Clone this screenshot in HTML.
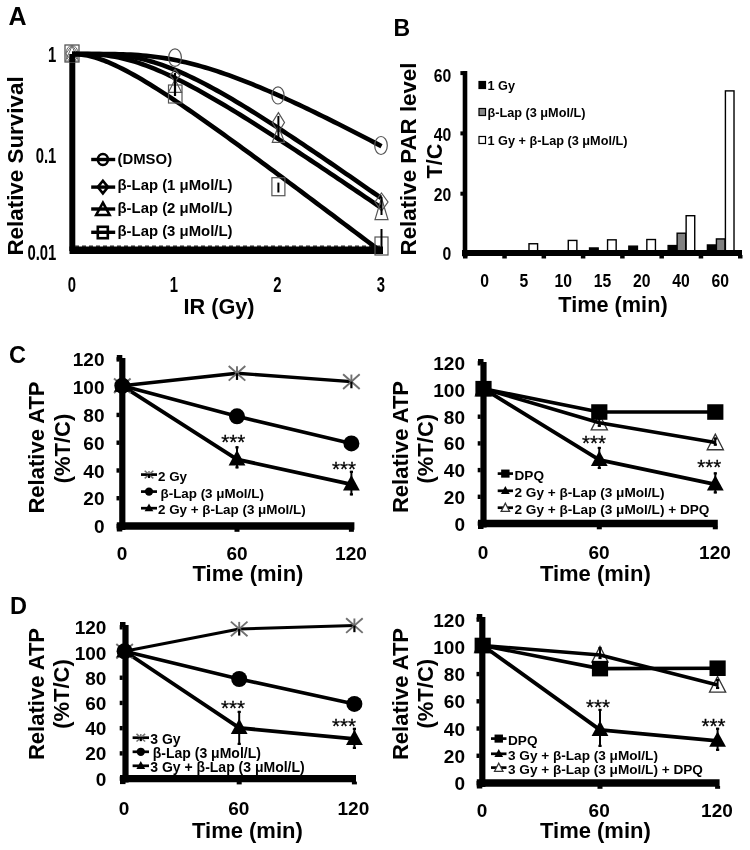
<!DOCTYPE html>
<html><head><meta charset="utf-8"><style>
html,body{margin:0;padding:0;background:#fff;width:750px;height:850px;overflow:hidden}
svg{display:block;filter:grayscale(100%)}
text{font-family:"Liberation Sans", sans-serif}
</style></head><body>
<svg width="750" height="850" viewBox="0 0 750 850">
<rect width="750" height="850" fill="#fff"/>
<text x="8.50" y="24.80" font-size="25" font-weight="bold" text-anchor="start" fill="#000" >A</text>
<text transform="translate(23.20,166.00) rotate(-90)" x="0" y="0" font-size="22.4" font-weight="bold" text-anchor="middle" fill="#000" >Relative Survival</text>
<line x1="72.30" y1="55.00" x2="72.30" y2="251.00" stroke="#000" stroke-width="6" stroke-linecap="butt"/>
<line x1="69.50" y1="250.30" x2="383.00" y2="250.30" stroke="#000" stroke-width="7.6" stroke-linecap="butt"/>
<line x1="75" y1="246.3" x2="380" y2="246.3" stroke="#222" stroke-width="1.6" stroke-dasharray="4 3"/>
<text transform="translate(56.30,61.99) scale(0.66,1)" x="0" y="0" font-size="22.5" font-weight="bold" text-anchor="end" fill="#000" >1</text>
<text transform="translate(56.30,162.99) scale(0.66,1)" x="0" y="0" font-size="22.5" font-weight="bold" text-anchor="end" fill="#000" >0.1</text>
<text transform="translate(56.30,259.99) scale(0.66,1)" x="0" y="0" font-size="22.5" font-weight="bold" text-anchor="end" fill="#000" >0.01</text>
<text transform="translate(72.00,292.49) scale(0.66,1)" x="0" y="0" font-size="22.5" font-weight="bold" text-anchor="middle" fill="#000" >0</text>
<text transform="translate(174.00,292.49) scale(0.66,1)" x="0" y="0" font-size="22.5" font-weight="bold" text-anchor="middle" fill="#000" >1</text>
<text transform="translate(277.50,292.49) scale(0.66,1)" x="0" y="0" font-size="22.5" font-weight="bold" text-anchor="middle" fill="#000" >2</text>
<text transform="translate(381.00,292.49) scale(0.66,1)" x="0" y="0" font-size="22.5" font-weight="bold" text-anchor="middle" fill="#000" >3</text>
<text x="219.00" y="313.50" font-size="21.7" font-weight="bold" text-anchor="middle" fill="#000" >IR (Gy)</text>
<rect x="65.00" y="45.00" width="14.00" height="17.00" fill="#fff" stroke="#555" stroke-width="1.3"/>
<ellipse cx="72.00" cy="53.50" rx="6.00" ry="8.00" fill="none" stroke="#666" stroke-width="1.0"/>
<polygon points="72.00,45.00 78.00,53.50 72.00,62.00 66.00,53.50" fill="none" stroke="#666" stroke-width="1.0" stroke-linejoin="miter"/>
<polygon points="72.00,46.00 78.50,61.00 65.50,61.00" fill="none" stroke="#666" stroke-width="1.0" stroke-linejoin="miter"/>
<line x1="72.30" y1="54.00" x2="72.30" y2="62.00" stroke="#000" stroke-width="6" stroke-linecap="butt"/>
<polyline points="72.00,54.00 75.92,54.00 79.84,54.00 83.75,54.00 87.67,54.00 91.59,54.00 95.51,54.01 99.42,54.01 103.34,54.03 107.26,54.05 111.18,54.09 115.09,54.15 119.01,54.23 122.93,54.34 126.85,54.48 130.77,54.66 134.68,54.87 138.60,55.13 142.52,55.44 146.44,55.79 150.35,56.20 154.27,56.66 158.19,57.17 162.11,57.74 166.03,58.36 169.94,59.04 173.86,59.77 177.78,60.55 181.70,61.39 185.61,62.28 189.53,63.23 193.45,64.22 197.37,65.26 201.28,66.35 205.20,67.49 209.12,68.67 213.04,69.89 216.96,71.16 220.87,72.47 224.79,73.81 228.71,75.19 232.63,76.61 236.54,78.06 240.46,79.55 244.38,81.06 248.30,82.61 252.22,84.18 256.13,85.79 260.05,87.42 263.97,89.07 267.89,90.75 271.80,92.45 275.72,94.17 279.64,95.92 283.56,97.68 287.47,99.47 291.39,101.27 295.31,103.09 299.23,104.92 303.15,106.78 307.06,108.64 310.98,110.52 314.90,112.42 318.82,114.32 322.73,116.24 326.65,118.18 330.57,120.12 334.49,122.07 338.41,124.04 342.32,126.01 346.24,127.99 350.16,129.98 354.08,131.98 357.99,133.99 361.91,136.01 365.83,138.03 369.75,140.06 373.66,142.09 377.58,144.13 381.50,146.18" fill="none" stroke="#000" stroke-width="4.6" stroke-linejoin="round" stroke-linecap="butt"/>
<polyline points="72.00,54.00 75.91,54.00 79.82,54.00 83.73,54.00 87.65,54.01 91.56,54.02 95.47,54.06 99.38,54.12 103.29,54.22 107.20,54.36 111.11,54.57 115.03,54.84 118.94,55.19 122.85,55.62 126.76,56.14 130.67,56.75 134.58,57.45 138.49,58.24 142.41,59.13 146.32,60.11 150.23,61.18 154.14,62.33 158.05,63.58 161.96,64.90 165.87,66.31 169.78,67.79 173.70,69.35 177.61,70.97 181.52,72.66 185.43,74.42 189.34,76.23 193.25,78.11 197.16,80.03 201.08,82.01 204.99,84.03 208.90,86.10 212.81,88.21 216.72,90.36 220.63,92.55 224.54,94.78 228.46,97.04 232.37,99.33 236.28,101.65 240.19,103.99 244.10,106.37 248.01,108.76 251.92,111.18 255.84,113.63 259.75,116.09 263.66,118.57 267.57,121.07 271.48,123.59 275.39,126.12 279.30,128.67 283.22,131.23 287.13,133.80 291.04,136.39 294.95,138.99 298.86,141.59 302.77,144.21 306.68,146.84 310.59,149.48 314.51,152.12 318.42,154.77 322.33,157.43 326.24,160.10 330.15,162.77 334.06,165.45 337.97,168.14 341.89,170.83 345.80,173.52 349.71,176.22 353.62,178.93 357.53,181.64 361.44,184.35 365.35,187.06 369.27,189.78 373.18,192.51 377.09,195.23 381.00,197.96" fill="none" stroke="#000" stroke-width="4.6" stroke-linejoin="round" stroke-linecap="butt"/>
<polyline points="72.00,54.00 75.91,54.00 79.82,54.01 83.73,54.04 87.65,54.11 91.56,54.23 95.47,54.43 99.38,54.71 103.29,55.08 107.20,55.55 111.11,56.12 115.03,56.79 118.94,57.56 122.85,58.44 126.76,59.41 130.67,60.48 134.58,61.64 138.49,62.88 142.41,64.22 146.32,65.63 150.23,67.12 154.14,68.68 158.05,70.31 161.96,72.00 165.87,73.75 169.78,75.56 173.70,77.42 177.61,79.34 181.52,81.30 185.43,83.31 189.34,85.35 193.25,87.44 197.16,89.56 201.08,91.72 204.99,93.91 208.90,96.14 212.81,98.39 216.72,100.66 220.63,102.97 224.54,105.29 228.46,107.64 232.37,110.01 236.28,112.40 240.19,114.80 244.10,117.23 248.01,119.67 251.92,122.12 255.84,124.59 259.75,127.07 263.66,129.57 267.57,132.08 271.48,134.59 275.39,137.12 279.30,139.66 283.22,142.21 287.13,144.76 291.04,147.32 294.95,149.90 298.86,152.47 302.77,155.06 306.68,157.65 310.59,160.25 314.51,162.85 318.42,165.46 322.33,168.07 326.24,170.68 330.15,173.31 334.06,175.93 337.97,178.56 341.89,181.19 345.80,183.83 349.71,186.47 353.62,189.11 357.53,191.75 361.44,194.40 365.35,197.05 369.27,199.70 373.18,202.35 377.09,205.01 381.00,207.67" fill="none" stroke="#000" stroke-width="4.6" stroke-linejoin="round" stroke-linecap="butt"/>
<polyline points="72.00,54.00 75.89,54.08 79.77,54.36 83.66,54.87 87.54,55.59 91.43,56.50 95.32,57.58 99.20,58.83 103.09,60.22 106.97,61.74 110.86,63.38 114.75,65.12 118.63,66.96 122.52,68.89 126.41,70.90 130.29,72.98 134.18,75.13 138.06,77.34 141.95,79.60 145.84,81.92 149.72,84.28 153.61,86.68 157.49,89.13 161.38,91.61 165.27,94.12 169.15,96.66 173.04,99.23 176.92,101.83 180.81,104.45 184.70,107.09 188.58,109.76 192.47,112.44 196.35,115.14 200.24,117.86 204.13,120.59 208.01,123.34 211.90,126.09 215.78,128.87 219.67,131.65 223.56,134.44 227.44,137.25 231.33,140.06 235.22,142.88 239.10,145.71 242.99,148.54 246.87,151.39 250.76,154.23 254.65,157.09 258.53,159.95 262.42,162.81 266.30,165.68 270.19,168.56 274.08,171.44 277.96,174.32 281.85,177.21 285.73,180.10 289.62,182.99 293.51,185.88 297.39,188.78 301.28,191.68 305.16,194.59 309.05,197.49 312.94,200.40 316.82,203.31 320.71,206.22 324.59,209.13 328.48,212.05 332.37,214.96 336.25,217.88 340.14,220.80 344.03,223.72 347.91,226.64 351.80,229.56 355.68,232.48 359.57,235.41 363.46,238.33 367.34,241.26 371.23,244.18 375.11,247.11 379.00,250.04" fill="none" stroke="#000" stroke-width="4.6" stroke-linejoin="round" stroke-linecap="butt"/>
<ellipse cx="175.00" cy="57.60" rx="6.40" ry="8.80" fill="none" stroke="#555" stroke-width="1.2"/>
<polygon points="175.00,69.50 180.00,75.50 175.00,81.50 170.00,75.50" fill="none" stroke="#555" stroke-width="1.2" stroke-linejoin="miter"/>
<rect x="168.50" y="85.00" width="13.50" height="18.00" fill="none" stroke="#555" stroke-width="1.2"/>
<polygon points="175.00,79.60 181.50,92.30 168.50,92.30" fill="none" stroke="#555" stroke-width="1.2" stroke-linejoin="miter"/>
<line x1="175.00" y1="73.00" x2="175.00" y2="96.00" stroke="#000" stroke-width="2.2" stroke-linecap="butt"/>
<ellipse cx="278.00" cy="95.40" rx="6.10" ry="8.60" fill="none" stroke="#555" stroke-width="1.2"/>
<polygon points="278.40,112.60 284.50,122.50 278.40,132.40 272.30,122.50" fill="none" stroke="#555" stroke-width="1.2" stroke-linejoin="miter"/>
<polygon points="278.40,126.00 284.50,142.30 272.30,142.30" fill="none" stroke="#555" stroke-width="1.2" stroke-linejoin="miter"/>
<line x1="278.40" y1="116.00" x2="278.40" y2="138.00" stroke="#000" stroke-width="2" stroke-linecap="butt"/>
<rect x="271.90" y="177.70" width="13.00" height="18.00" fill="none" stroke="#555" stroke-width="1.2"/>
<line x1="278.40" y1="182.60" x2="278.40" y2="192.50" stroke="#000" stroke-width="2" stroke-linecap="butt"/>
<ellipse cx="381.00" cy="145.50" rx="6.30" ry="9.00" fill="none" stroke="#555" stroke-width="1.2"/>
<polygon points="381.50,193.00 388.00,202.00 381.50,211.00 375.00,202.00" fill="none" stroke="#555" stroke-width="1.2" stroke-linejoin="miter"/>
<polygon points="381.50,198.00 388.00,219.70 375.00,219.70" fill="none" stroke="#555" stroke-width="1.2" stroke-linejoin="miter"/>
<line x1="381.50" y1="197.00" x2="381.50" y2="215.00" stroke="#000" stroke-width="2" stroke-linecap="butt"/>
<rect x="375.00" y="237.00" width="13.00" height="18.00" fill="none" stroke="#555" stroke-width="1.2"/>
<line x1="381.50" y1="229.00" x2="381.50" y2="248.00" stroke="#000" stroke-width="2" stroke-linecap="butt"/>
<line x1="91.20" y1="159.50" x2="115.20" y2="159.50" stroke="#000" stroke-width="3.4" stroke-linecap="butt"/>
<ellipse cx="102.90" cy="159.50" rx="5.00" ry="5.50" fill="none" stroke="#000" stroke-width="2.6"/>
<text x="117.50" y="163.69" font-size="14.9" font-weight="bold" text-anchor="start" fill="#000" >(DMSO)</text>
<line x1="91.20" y1="187.10" x2="115.20" y2="187.10" stroke="#000" stroke-width="3.4" stroke-linecap="butt"/>
<polygon points="102.90,180.80 108.00,187.10 102.90,193.40 97.80,187.10" fill="none" stroke="#000" stroke-width="2.6" stroke-linejoin="miter"/>
<text x="117.50" y="190.09" font-size="14.9" font-weight="bold" text-anchor="start" fill="#000" >β-Lap (1 μMol/L)</text>
<line x1="91.20" y1="209.00" x2="115.20" y2="209.00" stroke="#000" stroke-width="3.4" stroke-linecap="butt"/>
<polygon points="102.90,202.70 109.60,215.00 96.20,215.00" fill="none" stroke="#000" stroke-width="2.6" stroke-linejoin="miter"/>
<text x="117.50" y="212.89" font-size="14.9" font-weight="bold" text-anchor="start" fill="#000" >β-Lap (2 μMol/L)</text>
<line x1="91.20" y1="232.30" x2="115.20" y2="232.30" stroke="#000" stroke-width="3.4" stroke-linecap="butt"/>
<rect x="97.80" y="226.80" width="10.00" height="11.40" fill="none" stroke="#000" stroke-width="2.6"/>
<text x="117.50" y="235.69" font-size="14.9" font-weight="bold" text-anchor="start" fill="#000" >β-Lap (3 μMol/L)</text>
<text x="393.50" y="35.50" font-size="23" font-weight="bold" text-anchor="start" fill="#000" >B</text>
<text transform="translate(416.30,159.00) rotate(-90)" x="0" y="0" font-size="22.3" font-weight="bold" text-anchor="middle" fill="#000" >Relative PAR level</text>
<text transform="translate(442.00,161.00) rotate(-90)" x="0" y="0" font-size="21.7" font-weight="bold" text-anchor="middle" fill="#000" >T/C</text>
<line x1="465.00" y1="71.00" x2="465.00" y2="257.00" stroke="#000" stroke-width="4.6" stroke-linecap="butt"/>
<line x1="462.00" y1="253.00" x2="742.00" y2="253.00" stroke="#000" stroke-width="6" stroke-linecap="butt"/>
<text transform="translate(451.30,260.41) scale(0.9,1)" x="0" y="0" font-size="17.5" font-weight="bold" text-anchor="end" fill="#000" >0</text>
<rect x="460.40" y="191.70" width="3.00" height="4.00" fill="#000" stroke="none" stroke-width="0"/>
<text transform="translate(451.30,201.21) scale(0.9,1)" x="0" y="0" font-size="17.5" font-weight="bold" text-anchor="end" fill="#000" >20</text>
<rect x="460.40" y="131.40" width="3.00" height="4.00" fill="#000" stroke="none" stroke-width="0"/>
<text transform="translate(451.30,141.21) scale(0.9,1)" x="0" y="0" font-size="17.5" font-weight="bold" text-anchor="end" fill="#000" >40</text>
<rect x="460.40" y="71.10" width="3.00" height="4.00" fill="#000" stroke="none" stroke-width="0"/>
<text transform="translate(451.30,82.21) scale(0.9,1)" x="0" y="0" font-size="17.5" font-weight="bold" text-anchor="end" fill="#000" >60</text>
<rect x="463.00" y="255.00" width="4.50" height="3.50" fill="#000" stroke="none" stroke-width="0"/>
<rect x="502.29" y="255.00" width="4.50" height="3.50" fill="#000" stroke="none" stroke-width="0"/>
<rect x="541.57" y="255.00" width="4.50" height="3.50" fill="#000" stroke="none" stroke-width="0"/>
<rect x="580.86" y="255.00" width="4.50" height="3.50" fill="#000" stroke="none" stroke-width="0"/>
<rect x="620.14" y="255.00" width="4.50" height="3.50" fill="#000" stroke="none" stroke-width="0"/>
<rect x="659.43" y="255.00" width="4.50" height="3.50" fill="#000" stroke="none" stroke-width="0"/>
<rect x="698.71" y="255.00" width="4.50" height="3.50" fill="#000" stroke="none" stroke-width="0"/>
<rect x="738.00" y="255.00" width="4.50" height="3.50" fill="#000" stroke="none" stroke-width="0"/>
<rect x="471.70" y="251.29" width="8.60" height="2.71" fill="#000" stroke="#000" stroke-width="1.4"/>
<rect x="480.70" y="252.49" width="8.60" height="1.51" fill="#808080" stroke="#000" stroke-width="1.4"/>
<rect x="489.70" y="251.59" width="8.60" height="2.41" fill="#fff" stroke="#000" stroke-width="1.4"/>
<text transform="translate(484.64,287.21) scale(0.9,1)" x="0" y="0" font-size="17.5" font-weight="bold" text-anchor="middle" fill="#000" >0</text>
<rect x="510.99" y="250.99" width="8.60" height="3.02" fill="#000" stroke="#000" stroke-width="1.4"/>
<rect x="519.99" y="252.19" width="8.60" height="1.81" fill="#808080" stroke="#000" stroke-width="1.4"/>
<rect x="528.99" y="243.75" width="8.60" height="10.25" fill="#fff" stroke="#000" stroke-width="1.4"/>
<text transform="translate(523.93,287.21) scale(0.9,1)" x="0" y="0" font-size="17.5" font-weight="bold" text-anchor="middle" fill="#000" >5</text>
<rect x="550.27" y="250.99" width="8.60" height="3.02" fill="#000" stroke="#000" stroke-width="1.4"/>
<rect x="559.27" y="252.19" width="8.60" height="1.81" fill="#808080" stroke="#000" stroke-width="1.4"/>
<rect x="568.27" y="240.43" width="8.60" height="13.57" fill="#fff" stroke="#000" stroke-width="1.4"/>
<text transform="translate(563.21,287.21) scale(0.9,1)" x="0" y="0" font-size="17.5" font-weight="bold" text-anchor="middle" fill="#000" >10</text>
<rect x="589.56" y="247.97" width="8.60" height="6.03" fill="#000" stroke="#000" stroke-width="1.4"/>
<rect x="598.56" y="251.89" width="8.60" height="2.11" fill="#808080" stroke="#000" stroke-width="1.4"/>
<rect x="607.56" y="239.83" width="8.60" height="14.17" fill="#fff" stroke="#000" stroke-width="1.4"/>
<text transform="translate(602.50,287.21) scale(0.9,1)" x="0" y="0" font-size="17.5" font-weight="bold" text-anchor="middle" fill="#000" >15</text>
<rect x="628.84" y="246.16" width="8.60" height="7.84" fill="#000" stroke="#000" stroke-width="1.4"/>
<rect x="637.84" y="251.59" width="8.60" height="2.41" fill="#808080" stroke="#000" stroke-width="1.4"/>
<rect x="646.84" y="239.53" width="8.60" height="14.47" fill="#fff" stroke="#000" stroke-width="1.4"/>
<text transform="translate(641.79,287.21) scale(0.9,1)" x="0" y="0" font-size="17.5" font-weight="bold" text-anchor="middle" fill="#000" >20</text>
<rect x="668.13" y="245.56" width="8.60" height="8.44" fill="#000" stroke="#000" stroke-width="1.4"/>
<rect x="677.13" y="233.20" width="8.60" height="20.80" fill="#808080" stroke="#000" stroke-width="1.4"/>
<rect x="686.13" y="215.71" width="8.60" height="38.29" fill="#fff" stroke="#000" stroke-width="1.4"/>
<text transform="translate(681.07,287.21) scale(0.9,1)" x="0" y="0" font-size="17.5" font-weight="bold" text-anchor="middle" fill="#000" >40</text>
<rect x="707.41" y="244.96" width="8.60" height="9.04" fill="#000" stroke="#000" stroke-width="1.4"/>
<rect x="716.41" y="238.93" width="8.60" height="15.08" fill="#808080" stroke="#000" stroke-width="1.4"/>
<rect x="725.41" y="90.89" width="8.60" height="163.11" fill="#fff" stroke="#000" stroke-width="1.4"/>
<text transform="translate(720.36,287.21) scale(0.9,1)" x="0" y="0" font-size="17.5" font-weight="bold" text-anchor="middle" fill="#000" >60</text>
<line x1="462.00" y1="253.00" x2="742.00" y2="253.00" stroke="#000" stroke-width="6" stroke-linecap="butt"/>
<text x="613.00" y="312.00" font-size="21.7" font-weight="bold" text-anchor="middle" fill="#000" >Time (min)</text>
<rect x="479.00" y="81.50" width="6.50" height="7.00" fill="#000" stroke="#000" stroke-width="1.2"/>
<text x="487.50" y="89.51" font-size="12.7" font-weight="bold" text-anchor="start" fill="#000" >1 Gy</text>
<rect x="479.00" y="108.50" width="6.50" height="7.00" fill="#888" stroke="#000" stroke-width="1.2"/>
<text x="487.50" y="116.51" font-size="12.7" font-weight="bold" text-anchor="start" fill="#000" >β-Lap (3 μMol/L)</text>
<rect x="479.00" y="136.50" width="6.50" height="7.00" fill="#fff" stroke="#000" stroke-width="1.2"/>
<text x="487.50" y="144.51" font-size="12.7" font-weight="bold" text-anchor="start" fill="#000" >1 Gy + β-Lap (3 μMol/L)</text>
<text x="9.00" y="362.70" font-size="23.5" font-weight="bold" text-anchor="start" fill="#000" >C</text>
<text transform="translate(44.00,447.50) rotate(-90)" x="0" y="0" font-size="22" font-weight="bold" text-anchor="middle" fill="#000" >Relative ATP</text>
<text transform="translate(69.50,448.50) rotate(-90)" x="0" y="0" font-size="22" font-weight="bold" text-anchor="middle" fill="#000" >(%T/C)</text>
<text transform="translate(104.50,533.07) scale(1.03,1)" x="0" y="0" font-size="18.5" font-weight="bold" text-anchor="end" fill="#000" >0</text>
<rect x="116.50" y="523.80" width="3.00" height="4.40" fill="#000" stroke="none" stroke-width="0"/>
<text transform="translate(104.50,505.30) scale(1.03,1)" x="0" y="0" font-size="18.5" font-weight="bold" text-anchor="end" fill="#000" >20</text>
<rect x="116.50" y="496.03" width="3.00" height="4.40" fill="#000" stroke="none" stroke-width="0"/>
<text transform="translate(104.50,477.53) scale(1.03,1)" x="0" y="0" font-size="18.5" font-weight="bold" text-anchor="end" fill="#000" >40</text>
<rect x="116.50" y="468.27" width="3.00" height="4.40" fill="#000" stroke="none" stroke-width="0"/>
<text transform="translate(104.50,449.77) scale(1.03,1)" x="0" y="0" font-size="18.5" font-weight="bold" text-anchor="end" fill="#000" >60</text>
<rect x="116.50" y="440.50" width="3.00" height="4.40" fill="#000" stroke="none" stroke-width="0"/>
<text transform="translate(104.50,422.00) scale(1.03,1)" x="0" y="0" font-size="18.5" font-weight="bold" text-anchor="end" fill="#000" >80</text>
<rect x="116.50" y="412.73" width="3.00" height="4.40" fill="#000" stroke="none" stroke-width="0"/>
<text transform="translate(104.50,394.23) scale(1.03,1)" x="0" y="0" font-size="18.5" font-weight="bold" text-anchor="end" fill="#000" >100</text>
<rect x="116.50" y="384.97" width="3.00" height="4.40" fill="#000" stroke="none" stroke-width="0"/>
<text transform="translate(104.50,366.47) scale(1.03,1)" x="0" y="0" font-size="18.5" font-weight="bold" text-anchor="end" fill="#000" >120</text>
<rect x="116.50" y="357.20" width="3.00" height="4.40" fill="#000" stroke="none" stroke-width="0"/>
<text transform="translate(122.00,560.07) scale(1.03,1)" x="0" y="0" font-size="18.5" font-weight="bold" text-anchor="middle" fill="#000" >0</text>
<text transform="translate(237.00,560.07) scale(1.03,1)" x="0" y="0" font-size="18.5" font-weight="bold" text-anchor="middle" fill="#000" >60</text>
<text transform="translate(351.00,560.07) scale(1.03,1)" x="0" y="0" font-size="18.5" font-weight="bold" text-anchor="middle" fill="#000" >120</text>
<text x="248.00" y="581.20" font-size="22" font-weight="bold" text-anchor="middle" fill="#000" >Time (min)</text>
<polyline points="122.30,385.78 237.00,373.28 351.40,381.61" fill="none" stroke="#000" stroke-width="3.4" stroke-linejoin="round" stroke-linecap="butt"/>
<polyline points="122.30,385.78 237.00,416.32 351.40,443.39" fill="none" stroke="#000" stroke-width="3.6" stroke-linejoin="round" stroke-linecap="butt"/>
<polyline points="122.30,385.78 237.00,459.36 351.40,484.35" fill="none" stroke="#000" stroke-width="3.8" stroke-linejoin="round" stroke-linecap="butt"/>
<line x1="114.00" y1="378.47" x2="130.60" y2="393.08" stroke="#707070" stroke-width="1.9" stroke-linecap="butt"/>
<line x1="114.00" y1="393.08" x2="130.60" y2="378.47" stroke="#707070" stroke-width="1.9" stroke-linecap="butt"/>
<line x1="122.30" y1="378.72" x2="122.30" y2="385.78" stroke="#707070" stroke-width="1.9" stroke-linecap="butt"/>
<line x1="122.30" y1="385.78" x2="122.30" y2="392.42" stroke="#000" stroke-width="2.2" stroke-linecap="butt"/>
<line x1="228.70" y1="365.98" x2="245.30" y2="380.59" stroke="#707070" stroke-width="1.9" stroke-linecap="butt"/>
<line x1="228.70" y1="380.59" x2="245.30" y2="365.98" stroke="#707070" stroke-width="1.9" stroke-linecap="butt"/>
<line x1="237.00" y1="366.23" x2="237.00" y2="373.28" stroke="#707070" stroke-width="1.9" stroke-linecap="butt"/>
<line x1="237.00" y1="373.28" x2="237.00" y2="379.92" stroke="#000" stroke-width="2.2" stroke-linecap="butt"/>
<line x1="343.10" y1="374.31" x2="359.70" y2="388.92" stroke="#707070" stroke-width="1.9" stroke-linecap="butt"/>
<line x1="343.10" y1="388.92" x2="359.70" y2="374.31" stroke="#707070" stroke-width="1.9" stroke-linecap="butt"/>
<line x1="351.40" y1="374.56" x2="351.40" y2="381.61" stroke="#707070" stroke-width="1.9" stroke-linecap="butt"/>
<line x1="351.40" y1="381.61" x2="351.40" y2="388.25" stroke="#000" stroke-width="2.2" stroke-linecap="butt"/>
<circle cx="122.30" cy="385.78" r="8.00" fill="#000" stroke="none" stroke-width="0"/>
<circle cx="237.00" cy="416.32" r="8.00" fill="#000" stroke="none" stroke-width="0"/>
<circle cx="351.40" cy="443.39" r="8.00" fill="#000" stroke="none" stroke-width="0"/>
<polygon points="122.30,376.54 130.70,391.83 113.90,391.83" fill="#000" stroke="none" stroke-width="0" stroke-linejoin="miter"/>
<polygon points="237.00,450.12 245.40,465.41 228.60,465.41" fill="#000" stroke="none" stroke-width="0" stroke-linejoin="miter"/>
<line x1="237.00" y1="446.36" x2="237.00" y2="468.36" stroke="#000" stroke-width="2" stroke-linecap="butt"/>
<line x1="235.40" y1="447.36" x2="238.60" y2="447.36" stroke="#000" stroke-width="2.2" stroke-linecap="butt"/>
<line x1="235.40" y1="467.36" x2="238.60" y2="467.36" stroke="#000" stroke-width="2.2" stroke-linecap="butt"/>
<polygon points="351.40,475.11 359.80,490.40 343.00,490.40" fill="#000" stroke="none" stroke-width="0" stroke-linejoin="miter"/>
<line x1="351.40" y1="470.85" x2="351.40" y2="495.35" stroke="#000" stroke-width="2" stroke-linecap="butt"/>
<line x1="349.80" y1="471.85" x2="353.00" y2="471.85" stroke="#000" stroke-width="2.2" stroke-linecap="butt"/>
<line x1="349.80" y1="494.35" x2="353.00" y2="494.35" stroke="#000" stroke-width="2.2" stroke-linecap="butt"/>
<line x1="122.30" y1="358.00" x2="122.30" y2="530.00" stroke="#000" stroke-width="6.2" stroke-linecap="butt"/>
<rect x="116.80" y="355.00" width="5.50" height="5.00" fill="#000" stroke="none" stroke-width="0"/>
<line x1="116.80" y1="526.00" x2="354.40" y2="526.00" stroke="#000" stroke-width="7.4" stroke-linecap="butt"/>
<rect x="234.50" y="529.00" width="5.00" height="2.80" fill="#000" stroke="none" stroke-width="0"/>
<rect x="348.90" y="529.00" width="5.00" height="2.80" fill="#000" stroke="none" stroke-width="0"/>
<rect x="116.80" y="528.00" width="5.50" height="3.50" fill="#000" stroke="none" stroke-width="0"/>
<text x="233.15" y="449.20" font-size="20.5" font-weight="normal" text-anchor="middle" fill="#000" stroke="#000" stroke-width="0.3">***</text>
<text x="343.90" y="475.80" font-size="20.5" font-weight="normal" text-anchor="middle" fill="#000" stroke="#000" stroke-width="0.3">***</text>
<line x1="141.00" y1="474.60" x2="157.00" y2="474.60" stroke="#000" stroke-width="2.7" stroke-linecap="butt"/>
<line x1="144.68" y1="470.80" x2="153.32" y2="478.40" stroke="#707070" stroke-width="1.5" stroke-linecap="butt"/>
<line x1="144.68" y1="478.40" x2="153.32" y2="470.80" stroke="#707070" stroke-width="1.5" stroke-linecap="butt"/>
<line x1="149.00" y1="470.93" x2="149.00" y2="474.60" stroke="#707070" stroke-width="1.5" stroke-linecap="butt"/>
<line x1="149.00" y1="474.60" x2="149.00" y2="478.05" stroke="#000" stroke-width="2.2" stroke-linecap="butt"/>
<line x1="144.68" y1="474.60" x2="153.32" y2="474.60" stroke="#000" stroke-width="1.5" stroke-linecap="butt"/>
<text x="158.00" y="480.76" font-size="13.4" font-weight="bold" text-anchor="start" fill="#000" >2 Gy</text>
<line x1="141.00" y1="491.60" x2="157.00" y2="491.60" stroke="#000" stroke-width="2.7" stroke-linecap="butt"/>
<circle cx="149.00" cy="491.60" r="4.16" fill="#000" stroke="none" stroke-width="0"/>
<text x="160.50" y="497.76" font-size="13.4" font-weight="bold" text-anchor="start" fill="#000" >β-Lap (3 μMol/L)</text>
<line x1="141.00" y1="508.20" x2="157.00" y2="508.20" stroke="#000" stroke-width="2.7" stroke-linecap="butt"/>
<polygon points="149.00,503.40 153.37,511.34 144.63,511.34" fill="#000" stroke="none" stroke-width="0" stroke-linejoin="miter"/>
<text x="158.00" y="514.36" font-size="13.4" font-weight="bold" text-anchor="start" fill="#000" >2 Gy + β-Lap (3 μMol/L)</text>
<text transform="translate(408.30,447.00) rotate(-90)" x="0" y="0" font-size="22" font-weight="bold" text-anchor="middle" fill="#000" >Relative ATP</text>
<text transform="translate(433.20,448.70) rotate(-90)" x="0" y="0" font-size="22" font-weight="bold" text-anchor="middle" fill="#000" >(%T/C)</text>
<text transform="translate(465.00,530.57) scale(1.03,1)" x="0" y="0" font-size="18.5" font-weight="bold" text-anchor="end" fill="#000" >0</text>
<rect x="477.70" y="521.30" width="3.00" height="4.40" fill="#000" stroke="none" stroke-width="0"/>
<text transform="translate(465.00,503.87) scale(1.03,1)" x="0" y="0" font-size="18.5" font-weight="bold" text-anchor="end" fill="#000" >20</text>
<rect x="477.70" y="494.60" width="3.00" height="4.40" fill="#000" stroke="none" stroke-width="0"/>
<text transform="translate(465.00,477.17) scale(1.03,1)" x="0" y="0" font-size="18.5" font-weight="bold" text-anchor="end" fill="#000" >40</text>
<rect x="477.70" y="467.90" width="3.00" height="4.40" fill="#000" stroke="none" stroke-width="0"/>
<text transform="translate(465.00,450.47) scale(1.03,1)" x="0" y="0" font-size="18.5" font-weight="bold" text-anchor="end" fill="#000" >60</text>
<rect x="477.70" y="441.20" width="3.00" height="4.40" fill="#000" stroke="none" stroke-width="0"/>
<text transform="translate(465.00,423.77) scale(1.03,1)" x="0" y="0" font-size="18.5" font-weight="bold" text-anchor="end" fill="#000" >80</text>
<rect x="477.70" y="414.50" width="3.00" height="4.40" fill="#000" stroke="none" stroke-width="0"/>
<text transform="translate(465.00,397.07) scale(1.03,1)" x="0" y="0" font-size="18.5" font-weight="bold" text-anchor="end" fill="#000" >100</text>
<rect x="477.70" y="387.80" width="3.00" height="4.40" fill="#000" stroke="none" stroke-width="0"/>
<text transform="translate(465.00,370.37) scale(1.03,1)" x="0" y="0" font-size="18.5" font-weight="bold" text-anchor="end" fill="#000" >120</text>
<rect x="477.70" y="361.10" width="3.00" height="4.40" fill="#000" stroke="none" stroke-width="0"/>
<text transform="translate(483.00,558.57) scale(1.03,1)" x="0" y="0" font-size="18.5" font-weight="bold" text-anchor="middle" fill="#000" >0</text>
<text transform="translate(599.00,558.57) scale(1.03,1)" x="0" y="0" font-size="18.5" font-weight="bold" text-anchor="middle" fill="#000" >60</text>
<text transform="translate(715.00,558.57) scale(1.03,1)" x="0" y="0" font-size="18.5" font-weight="bold" text-anchor="middle" fill="#000" >120</text>
<text x="595.30" y="581.00" font-size="22" font-weight="bold" text-anchor="middle" fill="#000" >Time (min)</text>
<polygon points="483.50,380.16 491.60,395.79 475.40,395.79" fill="#fff" stroke="#333" stroke-width="1.3" stroke-linejoin="miter"/>
<polygon points="599.30,414.20 607.40,429.84 591.20,429.84" fill="#fff" stroke="#333" stroke-width="1.3" stroke-linejoin="miter"/>
<line x1="599.30" y1="417.71" x2="599.30" y2="426.71" stroke="#000" stroke-width="2" stroke-linecap="butt"/>
<line x1="597.70" y1="418.71" x2="600.90" y2="418.71" stroke="#000" stroke-width="2.2" stroke-linecap="butt"/>
<line x1="597.70" y1="425.71" x2="600.90" y2="425.71" stroke="#000" stroke-width="2.2" stroke-linecap="butt"/>
<polygon points="715.30,434.09 723.40,449.73 707.20,449.73" fill="#fff" stroke="#333" stroke-width="1.3" stroke-linejoin="miter"/>
<line x1="715.30" y1="437.60" x2="715.30" y2="445.60" stroke="#000" stroke-width="2" stroke-linecap="butt"/>
<line x1="713.70" y1="438.60" x2="716.90" y2="438.60" stroke="#000" stroke-width="2.2" stroke-linecap="butt"/>
<line x1="713.70" y1="444.60" x2="716.90" y2="444.60" stroke="#000" stroke-width="2.2" stroke-linecap="butt"/>
<polyline points="483.50,388.66 599.30,412.03 715.30,412.03" fill="none" stroke="#000" stroke-width="3.6" stroke-linejoin="round" stroke-linecap="butt"/>
<polyline points="483.50,388.66 599.30,422.71 715.30,442.60" fill="none" stroke="#000" stroke-width="3.6" stroke-linejoin="round" stroke-linecap="butt"/>
<polyline points="483.50,388.66 599.30,459.95 715.30,484.38" fill="none" stroke="#000" stroke-width="3.8" stroke-linejoin="round" stroke-linecap="butt"/>
<rect x="475.40" y="380.89" width="16.20" height="15.55" fill="#000" stroke="none" stroke-width="0"/>
<rect x="591.20" y="404.25" width="16.20" height="15.55" fill="#000" stroke="none" stroke-width="0"/>
<rect x="707.20" y="404.25" width="16.20" height="15.55" fill="#000" stroke="none" stroke-width="0"/>
<polygon points="483.50,379.42 491.90,394.71 475.10,394.71" fill="#000" stroke="none" stroke-width="0" stroke-linejoin="miter"/>
<polygon points="599.30,450.71 607.70,466.00 590.90,466.00" fill="#000" stroke="none" stroke-width="0" stroke-linejoin="miter"/>
<line x1="599.30" y1="446.95" x2="599.30" y2="468.95" stroke="#000" stroke-width="2" stroke-linecap="butt"/>
<line x1="597.70" y1="447.95" x2="600.90" y2="447.95" stroke="#000" stroke-width="2.2" stroke-linecap="butt"/>
<line x1="597.70" y1="467.95" x2="600.90" y2="467.95" stroke="#000" stroke-width="2.2" stroke-linecap="butt"/>
<polygon points="715.30,475.14 723.70,490.43 706.90,490.43" fill="#000" stroke="none" stroke-width="0" stroke-linejoin="miter"/>
<line x1="715.30" y1="472.38" x2="715.30" y2="493.38" stroke="#000" stroke-width="2" stroke-linecap="butt"/>
<line x1="713.70" y1="473.38" x2="716.90" y2="473.38" stroke="#000" stroke-width="2.2" stroke-linecap="butt"/>
<line x1="713.70" y1="492.38" x2="716.90" y2="492.38" stroke="#000" stroke-width="2.2" stroke-linecap="butt"/>
<line x1="483.50" y1="362.00" x2="483.50" y2="527.50" stroke="#000" stroke-width="6.2" stroke-linecap="butt"/>
<rect x="478.00" y="359.00" width="5.50" height="5.00" fill="#000" stroke="none" stroke-width="0"/>
<line x1="478.00" y1="523.50" x2="717.80" y2="523.50" stroke="#000" stroke-width="7.4" stroke-linecap="butt"/>
<rect x="596.80" y="526.50" width="5.00" height="2.80" fill="#000" stroke="none" stroke-width="0"/>
<rect x="712.80" y="526.50" width="5.00" height="2.80" fill="#000" stroke="none" stroke-width="0"/>
<rect x="478.00" y="525.50" width="5.50" height="3.50" fill="#000" stroke="none" stroke-width="0"/>
<text x="593.90" y="450.10" font-size="20.5" font-weight="normal" text-anchor="middle" fill="#000" stroke="#000" stroke-width="0.3">***</text>
<text x="709.25" y="473.80" font-size="20.5" font-weight="normal" text-anchor="middle" fill="#000" stroke="#000" stroke-width="0.3">***</text>
<line x1="497.70" y1="473.60" x2="513.00" y2="473.60" stroke="#000" stroke-width="2.7" stroke-linecap="butt"/>
<rect x="501.14" y="469.56" width="8.42" height="8.09" fill="#000" stroke="none" stroke-width="0"/>
<text x="514.50" y="479.83" font-size="13.6" font-weight="bold" text-anchor="start" fill="#000" >DPQ</text>
<line x1="497.70" y1="490.80" x2="513.00" y2="490.80" stroke="#000" stroke-width="2.7" stroke-linecap="butt"/>
<polygon points="505.35,486.00 509.72,493.94 500.98,493.94" fill="#000" stroke="none" stroke-width="0" stroke-linejoin="miter"/>
<text x="514.50" y="497.03" font-size="13.6" font-weight="bold" text-anchor="start" fill="#000" >2 Gy + β-Lap (3 μMol/L)</text>
<line x1="497.70" y1="507.70" x2="513.00" y2="507.70" stroke="#000" stroke-width="2.7" stroke-linecap="butt"/>
<polygon points="505.35,503.28 509.56,511.41 501.14,511.41" fill="#fff" stroke="#333" stroke-width="1.3" stroke-linejoin="miter"/>
<text x="514.50" y="513.93" font-size="13.6" font-weight="bold" text-anchor="start" fill="#000" >2 Gy + β-Lap (3 μMol/L) + DPQ</text>
<text x="10.00" y="613.50" font-size="23.5" font-weight="bold" text-anchor="start" fill="#000" >D</text>
<text transform="translate(44.00,694.00) rotate(-90)" x="0" y="0" font-size="22" font-weight="bold" text-anchor="middle" fill="#000" >Relative ATP</text>
<text transform="translate(69.30,694.00) rotate(-90)" x="0" y="0" font-size="22" font-weight="bold" text-anchor="middle" fill="#000" >(%T/C)</text>
<text transform="translate(106.40,785.67) scale(1.03,1)" x="0" y="0" font-size="18.5" font-weight="bold" text-anchor="end" fill="#000" >0</text>
<rect x="119.70" y="776.40" width="3.00" height="4.40" fill="#000" stroke="none" stroke-width="0"/>
<text transform="translate(106.40,760.45) scale(1.03,1)" x="0" y="0" font-size="18.5" font-weight="bold" text-anchor="end" fill="#000" >20</text>
<rect x="119.70" y="751.18" width="3.00" height="4.40" fill="#000" stroke="none" stroke-width="0"/>
<text transform="translate(106.40,735.23) scale(1.03,1)" x="0" y="0" font-size="18.5" font-weight="bold" text-anchor="end" fill="#000" >40</text>
<rect x="119.70" y="725.97" width="3.00" height="4.40" fill="#000" stroke="none" stroke-width="0"/>
<text transform="translate(106.40,710.02) scale(1.03,1)" x="0" y="0" font-size="18.5" font-weight="bold" text-anchor="end" fill="#000" >60</text>
<rect x="119.70" y="700.75" width="3.00" height="4.40" fill="#000" stroke="none" stroke-width="0"/>
<text transform="translate(106.40,684.80) scale(1.03,1)" x="0" y="0" font-size="18.5" font-weight="bold" text-anchor="end" fill="#000" >80</text>
<rect x="119.70" y="675.53" width="3.00" height="4.40" fill="#000" stroke="none" stroke-width="0"/>
<text transform="translate(106.40,659.58) scale(1.03,1)" x="0" y="0" font-size="18.5" font-weight="bold" text-anchor="end" fill="#000" >100</text>
<rect x="119.70" y="650.32" width="3.00" height="4.40" fill="#000" stroke="none" stroke-width="0"/>
<text transform="translate(106.40,634.37) scale(1.03,1)" x="0" y="0" font-size="18.5" font-weight="bold" text-anchor="end" fill="#000" >120</text>
<rect x="119.70" y="625.10" width="3.00" height="4.40" fill="#000" stroke="none" stroke-width="0"/>
<text transform="translate(124.00,814.57) scale(1.03,1)" x="0" y="0" font-size="18.5" font-weight="bold" text-anchor="middle" fill="#000" >0</text>
<text transform="translate(238.80,814.57) scale(1.03,1)" x="0" y="0" font-size="18.5" font-weight="bold" text-anchor="middle" fill="#000" >60</text>
<text transform="translate(353.40,814.57) scale(1.03,1)" x="0" y="0" font-size="18.5" font-weight="bold" text-anchor="middle" fill="#000" >120</text>
<text x="247.40" y="837.50" font-size="22" font-weight="bold" text-anchor="middle" fill="#000" >Time (min)</text>
<polyline points="124.60,651.26 239.20,628.94 354.40,625.53" fill="none" stroke="#000" stroke-width="3.0" stroke-linejoin="round" stroke-linecap="butt"/>
<polyline points="124.60,651.26 239.20,678.99 354.40,703.96" fill="none" stroke="#000" stroke-width="3.6" stroke-linejoin="round" stroke-linecap="butt"/>
<polyline points="124.60,651.26 239.20,727.91 354.40,738.88" fill="none" stroke="#000" stroke-width="3.8" stroke-linejoin="round" stroke-linecap="butt"/>
<line x1="116.30" y1="643.95" x2="132.90" y2="658.56" stroke="#707070" stroke-width="1.9" stroke-linecap="butt"/>
<line x1="116.30" y1="658.56" x2="132.90" y2="643.95" stroke="#707070" stroke-width="1.9" stroke-linecap="butt"/>
<line x1="124.60" y1="644.20" x2="124.60" y2="651.26" stroke="#707070" stroke-width="1.9" stroke-linecap="butt"/>
<line x1="124.60" y1="651.26" x2="124.60" y2="657.90" stroke="#000" stroke-width="2.2" stroke-linecap="butt"/>
<line x1="230.90" y1="621.64" x2="247.50" y2="636.24" stroke="#707070" stroke-width="1.9" stroke-linecap="butt"/>
<line x1="230.90" y1="636.24" x2="247.50" y2="621.64" stroke="#707070" stroke-width="1.9" stroke-linecap="butt"/>
<line x1="239.20" y1="621.88" x2="239.20" y2="628.94" stroke="#707070" stroke-width="1.9" stroke-linecap="butt"/>
<line x1="239.20" y1="628.94" x2="239.20" y2="635.58" stroke="#000" stroke-width="2.2" stroke-linecap="butt"/>
<line x1="346.10" y1="618.23" x2="362.70" y2="632.84" stroke="#707070" stroke-width="1.9" stroke-linecap="butt"/>
<line x1="346.10" y1="632.84" x2="362.70" y2="618.23" stroke="#707070" stroke-width="1.9" stroke-linecap="butt"/>
<line x1="354.40" y1="618.48" x2="354.40" y2="625.53" stroke="#707070" stroke-width="1.9" stroke-linecap="butt"/>
<line x1="354.40" y1="625.53" x2="354.40" y2="632.17" stroke="#000" stroke-width="2.2" stroke-linecap="butt"/>
<circle cx="124.60" cy="651.26" r="8.00" fill="#000" stroke="none" stroke-width="0"/>
<circle cx="239.20" cy="678.99" r="8.00" fill="#000" stroke="none" stroke-width="0"/>
<circle cx="354.40" cy="703.96" r="8.00" fill="#000" stroke="none" stroke-width="0"/>
<polygon points="124.60,642.02 133.00,657.30 116.20,657.30" fill="#000" stroke="none" stroke-width="0" stroke-linejoin="miter"/>
<polygon points="239.20,718.67 247.60,733.96 230.80,733.96" fill="#000" stroke="none" stroke-width="0" stroke-linejoin="miter"/>
<line x1="239.20" y1="710.91" x2="239.20" y2="744.91" stroke="#000" stroke-width="2" stroke-linecap="butt"/>
<line x1="237.60" y1="711.91" x2="240.80" y2="711.91" stroke="#000" stroke-width="2.2" stroke-linecap="butt"/>
<line x1="237.60" y1="743.91" x2="240.80" y2="743.91" stroke="#000" stroke-width="2.2" stroke-linecap="butt"/>
<polygon points="354.40,729.64 362.80,744.93 346.00,744.93" fill="#000" stroke="none" stroke-width="0" stroke-linejoin="miter"/>
<line x1="354.40" y1="727.88" x2="354.40" y2="748.88" stroke="#000" stroke-width="2" stroke-linecap="butt"/>
<line x1="352.80" y1="728.88" x2="356.00" y2="728.88" stroke="#000" stroke-width="2.2" stroke-linecap="butt"/>
<line x1="352.80" y1="747.88" x2="356.00" y2="747.88" stroke="#000" stroke-width="2.2" stroke-linecap="butt"/>
<line x1="125.50" y1="625.00" x2="125.50" y2="782.60" stroke="#000" stroke-width="6.2" stroke-linecap="butt"/>
<rect x="120.00" y="622.00" width="5.50" height="5.00" fill="#000" stroke="none" stroke-width="0"/>
<line x1="120.00" y1="778.60" x2="356.00" y2="778.60" stroke="#000" stroke-width="7.4" stroke-linecap="butt"/>
<rect x="236.70" y="781.60" width="5.00" height="2.80" fill="#000" stroke="none" stroke-width="0"/>
<rect x="351.90" y="781.60" width="5.00" height="2.80" fill="#000" stroke="none" stroke-width="0"/>
<rect x="120.00" y="780.60" width="5.50" height="3.50" fill="#000" stroke="none" stroke-width="0"/>
<text x="233.00" y="714.80" font-size="20.5" font-weight="normal" text-anchor="middle" fill="#000" stroke="#000" stroke-width="0.3">***</text>
<text x="343.90" y="733.30" font-size="20.5" font-weight="normal" text-anchor="middle" fill="#000" stroke="#000" stroke-width="0.3">***</text>
<line x1="132.60" y1="737.70" x2="149.00" y2="737.70" stroke="#000" stroke-width="2.7" stroke-linecap="butt"/>
<line x1="136.48" y1="733.90" x2="145.12" y2="741.50" stroke="#707070" stroke-width="1.5" stroke-linecap="butt"/>
<line x1="136.48" y1="741.50" x2="145.12" y2="733.90" stroke="#707070" stroke-width="1.5" stroke-linecap="butt"/>
<line x1="140.80" y1="734.03" x2="140.80" y2="737.70" stroke="#707070" stroke-width="1.5" stroke-linecap="butt"/>
<line x1="140.80" y1="737.70" x2="140.80" y2="741.15" stroke="#000" stroke-width="2.2" stroke-linecap="butt"/>
<line x1="136.48" y1="737.70" x2="145.12" y2="737.70" stroke="#000" stroke-width="1.5" stroke-linecap="butt"/>
<text x="150.30" y="744.07" font-size="14.0" font-weight="bold" text-anchor="start" fill="#000" >3 Gy</text>
<line x1="132.60" y1="751.80" x2="149.00" y2="751.80" stroke="#000" stroke-width="2.7" stroke-linecap="butt"/>
<circle cx="140.80" cy="751.80" r="4.16" fill="#000" stroke="none" stroke-width="0"/>
<text x="152.80" y="758.17" font-size="14.0" font-weight="bold" text-anchor="start" fill="#000" >β-Lap (3 μMol/L)</text>
<line x1="132.60" y1="765.80" x2="149.00" y2="765.80" stroke="#000" stroke-width="2.7" stroke-linecap="butt"/>
<polygon points="140.80,761.00 145.17,768.94 136.43,768.94" fill="#000" stroke="none" stroke-width="0" stroke-linejoin="miter"/>
<text x="150.30" y="772.17" font-size="14.0" font-weight="bold" text-anchor="start" fill="#000" >3 Gy + β-Lap (3 μMol/L)</text>
<text transform="translate(408.00,694.00) rotate(-90)" x="0" y="0" font-size="22" font-weight="bold" text-anchor="middle" fill="#000" >Relative ATP</text>
<text transform="translate(432.80,693.70) rotate(-90)" x="0" y="0" font-size="22" font-weight="bold" text-anchor="middle" fill="#000" >(%T/C)</text>
<text transform="translate(465.00,790.07) scale(1.03,1)" x="0" y="0" font-size="18.5" font-weight="bold" text-anchor="end" fill="#000" >0</text>
<rect x="476.50" y="780.80" width="3.00" height="4.40" fill="#000" stroke="none" stroke-width="0"/>
<text transform="translate(465.00,762.83) scale(1.03,1)" x="0" y="0" font-size="18.5" font-weight="bold" text-anchor="end" fill="#000" >20</text>
<rect x="476.50" y="753.57" width="3.00" height="4.40" fill="#000" stroke="none" stroke-width="0"/>
<text transform="translate(465.00,735.60) scale(1.03,1)" x="0" y="0" font-size="18.5" font-weight="bold" text-anchor="end" fill="#000" >40</text>
<rect x="476.50" y="726.33" width="3.00" height="4.40" fill="#000" stroke="none" stroke-width="0"/>
<text transform="translate(465.00,708.37) scale(1.03,1)" x="0" y="0" font-size="18.5" font-weight="bold" text-anchor="end" fill="#000" >60</text>
<rect x="476.50" y="699.10" width="3.00" height="4.40" fill="#000" stroke="none" stroke-width="0"/>
<text transform="translate(465.00,681.13) scale(1.03,1)" x="0" y="0" font-size="18.5" font-weight="bold" text-anchor="end" fill="#000" >80</text>
<rect x="476.50" y="671.87" width="3.00" height="4.40" fill="#000" stroke="none" stroke-width="0"/>
<text transform="translate(465.00,653.90) scale(1.03,1)" x="0" y="0" font-size="18.5" font-weight="bold" text-anchor="end" fill="#000" >100</text>
<rect x="476.50" y="644.63" width="3.00" height="4.40" fill="#000" stroke="none" stroke-width="0"/>
<text transform="translate(465.00,626.67) scale(1.03,1)" x="0" y="0" font-size="18.5" font-weight="bold" text-anchor="end" fill="#000" >120</text>
<rect x="476.50" y="617.40" width="3.00" height="4.40" fill="#000" stroke="none" stroke-width="0"/>
<text transform="translate(482.00,817.07) scale(1.03,1)" x="0" y="0" font-size="18.5" font-weight="bold" text-anchor="middle" fill="#000" >0</text>
<text transform="translate(599.20,817.07) scale(1.03,1)" x="0" y="0" font-size="18.5" font-weight="bold" text-anchor="middle" fill="#000" >60</text>
<text transform="translate(717.00,817.07) scale(1.03,1)" x="0" y="0" font-size="18.5" font-weight="bold" text-anchor="middle" fill="#000" >120</text>
<text x="595.40" y="837.50" font-size="22" font-weight="bold" text-anchor="middle" fill="#000" >Time (min)</text>
<polygon points="482.70,636.97 490.80,652.60 474.60,652.60" fill="#fff" stroke="#333" stroke-width="1.3" stroke-linejoin="miter"/>
<polygon points="600.00,646.50 608.10,662.13 591.90,662.13" fill="#fff" stroke="#333" stroke-width="1.3" stroke-linejoin="miter"/>
<line x1="600.00" y1="647.00" x2="600.00" y2="659.00" stroke="#000" stroke-width="2" stroke-linecap="butt"/>
<line x1="598.40" y1="648.00" x2="601.60" y2="648.00" stroke="#000" stroke-width="2.2" stroke-linecap="butt"/>
<line x1="598.40" y1="658.00" x2="601.60" y2="658.00" stroke="#000" stroke-width="2.2" stroke-linecap="butt"/>
<polygon points="717.60,676.46 725.70,692.09 709.50,692.09" fill="#fff" stroke="#333" stroke-width="1.3" stroke-linejoin="miter"/>
<line x1="717.60" y1="678.96" x2="717.60" y2="688.96" stroke="#000" stroke-width="2" stroke-linecap="butt"/>
<line x1="716.00" y1="679.96" x2="719.20" y2="679.96" stroke="#000" stroke-width="2.2" stroke-linecap="butt"/>
<line x1="716.00" y1="687.96" x2="719.20" y2="687.96" stroke="#000" stroke-width="2.2" stroke-linecap="butt"/>
<polyline points="482.70,645.47 600.00,668.62 717.60,668.21" fill="none" stroke="#000" stroke-width="3.6" stroke-linejoin="round" stroke-linecap="butt"/>
<polyline points="482.70,645.47 600.00,655.00 717.60,684.96" fill="none" stroke="#000" stroke-width="3.6" stroke-linejoin="round" stroke-linecap="butt"/>
<polyline points="482.70,645.47 600.00,729.89 717.60,740.79" fill="none" stroke="#000" stroke-width="3.8" stroke-linejoin="round" stroke-linecap="butt"/>
<rect x="474.60" y="637.70" width="16.20" height="15.55" fill="#000" stroke="none" stroke-width="0"/>
<rect x="591.90" y="660.84" width="16.20" height="15.55" fill="#000" stroke="none" stroke-width="0"/>
<rect x="709.50" y="660.44" width="16.20" height="15.55" fill="#000" stroke="none" stroke-width="0"/>
<polygon points="482.70,636.23 491.10,651.52 474.30,651.52" fill="#000" stroke="none" stroke-width="0" stroke-linejoin="miter"/>
<polygon points="600.00,720.65 608.40,735.94 591.60,735.94" fill="#000" stroke="none" stroke-width="0" stroke-linejoin="miter"/>
<line x1="600.00" y1="708.89" x2="600.00" y2="746.89" stroke="#000" stroke-width="2" stroke-linecap="butt"/>
<line x1="598.40" y1="709.89" x2="601.60" y2="709.89" stroke="#000" stroke-width="2.2" stroke-linecap="butt"/>
<line x1="598.40" y1="745.89" x2="601.60" y2="745.89" stroke="#000" stroke-width="2.2" stroke-linecap="butt"/>
<polygon points="717.60,731.55 726.00,746.84 709.20,746.84" fill="#000" stroke="none" stroke-width="0" stroke-linejoin="miter"/>
<line x1="717.60" y1="727.79" x2="717.60" y2="750.79" stroke="#000" stroke-width="2" stroke-linecap="butt"/>
<line x1="716.00" y1="728.79" x2="719.20" y2="728.79" stroke="#000" stroke-width="2.2" stroke-linecap="butt"/>
<line x1="716.00" y1="749.79" x2="719.20" y2="749.79" stroke="#000" stroke-width="2.2" stroke-linecap="butt"/>
<line x1="482.30" y1="617.00" x2="482.30" y2="787.00" stroke="#000" stroke-width="6.2" stroke-linecap="butt"/>
<rect x="476.80" y="614.00" width="5.50" height="5.00" fill="#000" stroke="none" stroke-width="0"/>
<line x1="476.80" y1="783.00" x2="719.60" y2="783.00" stroke="#000" stroke-width="7.4" stroke-linecap="butt"/>
<rect x="597.50" y="786.00" width="5.00" height="2.80" fill="#000" stroke="none" stroke-width="0"/>
<rect x="715.10" y="786.00" width="5.00" height="2.80" fill="#000" stroke="none" stroke-width="0"/>
<rect x="476.80" y="785.00" width="5.50" height="3.50" fill="#000" stroke="none" stroke-width="0"/>
<text x="598.00" y="714.30" font-size="20.5" font-weight="normal" text-anchor="middle" fill="#000" stroke="#000" stroke-width="0.3">***</text>
<text x="713.50" y="733.30" font-size="20.5" font-weight="normal" text-anchor="middle" fill="#000" stroke="#000" stroke-width="0.3">***</text>
<line x1="491.00" y1="738.60" x2="506.50" y2="738.60" stroke="#000" stroke-width="2.7" stroke-linecap="butt"/>
<rect x="494.54" y="734.56" width="8.42" height="8.09" fill="#000" stroke="none" stroke-width="0"/>
<text x="508.00" y="744.83" font-size="13.6" font-weight="bold" text-anchor="start" fill="#000" >DPQ</text>
<line x1="491.00" y1="753.80" x2="506.50" y2="753.80" stroke="#000" stroke-width="2.7" stroke-linecap="butt"/>
<polygon points="498.75,749.00 503.12,756.94 494.38,756.94" fill="#000" stroke="none" stroke-width="0" stroke-linejoin="miter"/>
<text x="508.00" y="760.03" font-size="13.6" font-weight="bold" text-anchor="start" fill="#000" >3 Gy + β-Lap (3 μMol/L)</text>
<line x1="491.00" y1="767.60" x2="506.50" y2="767.60" stroke="#000" stroke-width="2.7" stroke-linecap="butt"/>
<polygon points="498.75,763.18 502.96,771.31 494.54,771.31" fill="#fff" stroke="#333" stroke-width="1.3" stroke-linejoin="miter"/>
<text x="508.00" y="773.83" font-size="13.6" font-weight="bold" text-anchor="start" fill="#000" >3 Gy + β-Lap (3 μMol/L) + DPQ</text>
</svg></body></html>
